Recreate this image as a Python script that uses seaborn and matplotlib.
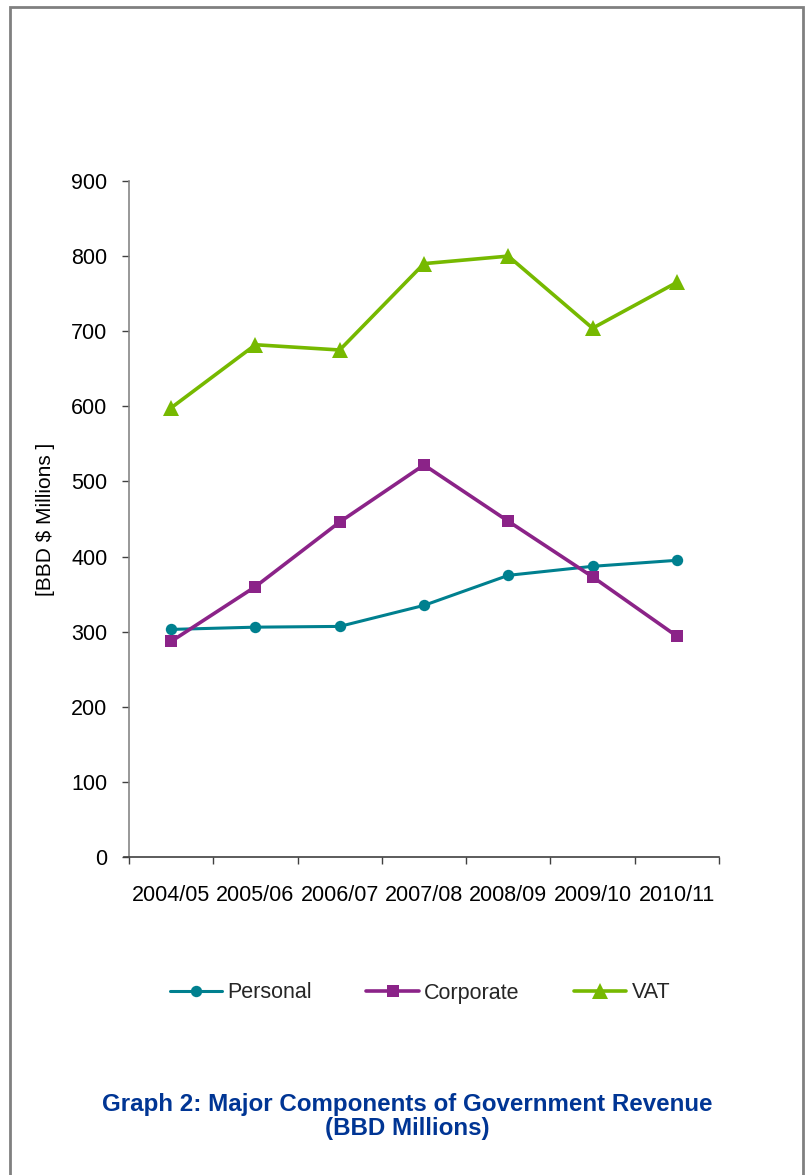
import matplotlib
matplotlib.use("Agg")
import matplotlib.pyplot as plt
import seaborn as sns
import pandas as pd
import numpy as np
from matplotlib.patches import Rectangle

years = ["2004/05", "2005/06", "2006/07", "2007/08", "2008/09", "2009/10", "2010/11"]
personal = [303, 306, 307, 335, 375, 387, 395]
corporate = [287, 360, 446, 522, 447, 373, 294]
vat = [598, 682, 675, 790, 800, 704, 765]
series_names = ["Personal", "Corporate", "VAT"]
y_ticks = [0, 100, 200, 300, 400, 500, 600, 700, 800, 900]

sns.set_theme(style="white")
plt.rcParams['font.family'] = ['Liberation Sans', 'DejaVu Sans']

df = pd.DataFrame({
    "year": years * 3,
    "value": personal + corporate + vat,
    "series": [series_names[0]] * 7 + [series_names[1]] * 7 + [series_names[2]] * 7,
})

colors = {"Personal": "#00808F", "Corporate": "#8B2388", "VAT": "#76B900"}
markers = {"Personal": "o", "Corporate": "s", "VAT": "^"}
widths = {"Personal": 2.2, "Corporate": 2.6, "VAT": 2.6}
msizes = {"Personal": 8.2, "Corporate": 8.8, "VAT": 11}

FS = 15.5

fig = plt.figure(figsize=(8.05, 11.75), dpi=100)
ax = fig.add_axes([129 / 805, 1 - 857 / 1175, 590 / 805, 676 / 1175])

for name in series_names:
    sub = df[df["series"] == name]
    sns.lineplot(data=sub, x="year", y="value", ax=ax, color=colors[name],
                 marker=markers[name], markersize=msizes[name], linewidth=widths[name],
                 markeredgewidth=0, label=name, sort=False)

ax.set_xlim(-0.5, 6.5)
ax.set_ylim(0, 900)
ax.set_yticks(y_ticks)
ax.set_yticklabels([str(v) for v in y_ticks], fontsize=FS, color="black")
ax.set_xticks(np.arange(-0.5, 7, 1.0))
ax.set_xticklabels([])
ax.set_xticks(np.arange(7), minor=True)
ax.set_xticklabels(years, minor=True, fontsize=FS, color="black")
ax.tick_params(axis="x", which="major", direction="out", length=5, width=1, color="#404040", bottom=True)
ax.tick_params(axis="x", which="minor", length=0, pad=20)
ax.tick_params(axis="y", direction="out", length=5, width=1, color="#404040", left=True, pad=10.5)
ax.set_xlabel("")
ax.set_ylabel("[BBD $ Millions ]", fontsize=15, color="black", labelpad=12)
for s in ["top", "right"]:
    ax.spines[s].set_visible(False)
ax.spines["left"].set_color("#868686")
ax.spines["bottom"].set_color("#404040")
ax.spines["left"].set_linewidth(1.2)
ax.spines["bottom"].set_linewidth(1.2)
ax.spines["bottom"].set_bounds(-0.5 - 5 / 84.3, 6.5)

handles, labels = ax.get_legend_handles_labels()
ax.legend_.remove()
fig.legend(handles, labels, loc="center", bbox_to_anchor=(420 / 805, 1 - 993 / 1175), ncol=3,
           frameon=False, fontsize=FS, handlelength=2.45, columnspacing=2.5, handletextpad=0.25)

fig.text(407 / 805, 1 - 1104 / 1175, "Graph 2: Major Components of Government Revenue",
         ha="center", va="center", fontsize=17.4, fontweight="bold", color="#003594")
fig.text(407 / 805, 1 - 1128 / 1175, "(BBD Millions)",
         ha="center", va="center", fontsize=17.4, fontweight="bold", color="#003594")

fig.patches.append(Rectangle((10 / 805, -0.01), 793 / 805, 1 - 7 / 1175 + 0.01,
                             transform=fig.transFigure, fill=False, edgecolor="#808080", linewidth=2))

fig.savefig("out.png", dpi=100, facecolor="white")
